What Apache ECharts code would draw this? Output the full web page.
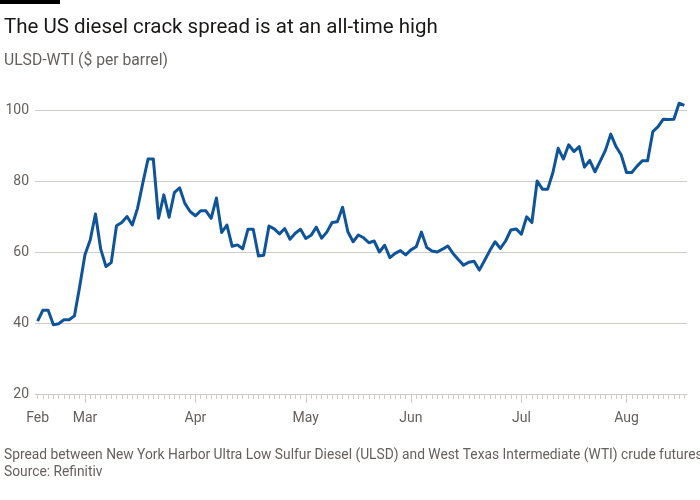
<!DOCTYPE html>
<html><head><meta charset="utf-8">
<script src="https://cdn.jsdelivr.net/npm/echarts@6/dist/echarts.min.js"></script>
<style>html,body{margin:0;padding:0;background:#fff}#c{width:700px;height:500px}</style>
</head><body><div id="c"></div>
<script>
// ULSD-WTI spread, $ per barrel, one value per trading day (mid-Feb to mid-Aug)
const spread = [
 40.5,43.6,43.6,39.5,39.8,40.9,40.9,42.0,50.3,59.2,
 63.4,70.7,60.8,55.9,57.0,67.4,68.3,70.0,67.6,72.3,
 79.4,86.2,86.2,69.5,76.1,69.8,76.7,78.1,73.7,71.4,
 70.2,71.6,71.6,69.5,75.2,65.5,67.6,61.6,62.0,60.9,
 66.4,66.4,58.9,59.1,67.3,66.5,65.1,66.6,63.6,65.3,
 66.4,63.8,64.7,67.0,63.9,65.6,68.3,68.5,72.6,65.7,
 62.9,64.8,64.0,62.6,63.1,60.0,61.9,58.4,59.6,60.4,
 59.2,60.6,61.5,65.6,61.3,60.3,60.0,60.8,61.7,59.6,
 57.9,56.3,57.1,57.4,54.9,57.6,60.4,62.9,61.0,63.1,
 66.2,66.5,65.0,69.9,68.3,80.0,77.7,77.7,82.4,89.2,
 86.2,90.2,88.3,89.7,83.9,85.8,82.6,85.6,88.7,93.2,
 89.7,87.3,82.4,82.4,84.2,85.7,85.7,93.9,95.3,97.4,
 97.3,97.4,101.9,101.3
];
const monthLabels = ['Feb','Mar','Apr','May','Jun','Jul','Aug'];
const monthStartIndex = [0,9,30,51,71,92,112];
const yTicks = [20,40,60,80,100];

const categories = spread.map((v,i)=>{
  const k = monthStartIndex.indexOf(i);
  return k >= 0 ? monthLabels[k] : 'd' + i;
});

const FONT = 'Roboto';
const GREY = '#66605c';
const LINE = '#cfcbc7';

const chart = echarts.init(document.getElementById('c'), null, {renderer:'canvas'});
chart.setOption({
  backgroundColor:'#fff',
  animation:false,
  title:[
    {text:'The US diesel crack spread is at an all-time high', left:-1, top:12,
     textStyle:{fontFamily:FONT, fontSize:20.5, fontWeight:'normal', color:'#1a1817'}},
    {text:'ULSD-WTI ($ per barrel)', left:-1, top:48,
     textStyle:{fontFamily:FONT, fontSize:15.7, fontWeight:'normal', color:GREY}},
    {text:'Spread between New York Harbor Ultra Low Sulfur Diesel (ULSD) and West Texas Intermediate (WTI) crude futures', left:-1, top:444,
     textStyle:{fontFamily:FONT, fontSize:13.8, fontWeight:'normal', color:GREY}},
    {text:'Source: Refinitiv', left:-1, top:461,
     textStyle:{fontFamily:FONT, fontSize:13.8, fontWeight:'normal', color:GREY}}
  ],
  graphic:[{type:'rect', left:0, top:0, shape:{width:60, height:4}, style:{fill:'#000'}}],
  grid:{left:35, right:13, top:110, bottom:106, containLabel:false},
  xAxis:[
    {type:'category', data:categories, position:'bottom', boundaryGap:true,
     axisLine:{show:true, lineStyle:{color:LINE, width:1}},
     axisTick:{show:true, interval:0, alignWithLabel:true, length:5, lineStyle:{color:LINE}},
     axisLabel:{show:true, interval:(i)=>monthStartIndex.includes(i), formatter:(v)=>v,
       margin:17, fontFamily:FONT, fontSize:14, color:GREY},
     splitLine:{show:false}},
    {type:'category', data:categories, position:'bottom', offset:0, boundaryGap:true,
     axisLine:{show:false},
     axisTick:{show:true, alignWithLabel:true, length:9, lineStyle:{color:LINE},
       interval:(i)=>monthStartIndex.includes(i) && i>0},
     axisLabel:{show:false}, splitLine:{show:false}}
  ],
  yAxis:{type:'value', min:yTicks[0], max:yTicks[yTicks.length-1], interval:20,
    axisLine:{show:false}, axisTick:{show:false},
    axisLabel:{margin:6, fontFamily:FONT, fontSize:14, color:GREY},
    splitLine:{show:true, lineStyle:{color:LINE, width:1}}},
  series:[{type:'line', data:spread, xAxisIndex:0, showSymbol:false, clip:false,
    lineStyle:{color:'#0f5499', width:3, join:'round'}, itemStyle:{color:'#0f5499'}}]
});
</script></body></html>
